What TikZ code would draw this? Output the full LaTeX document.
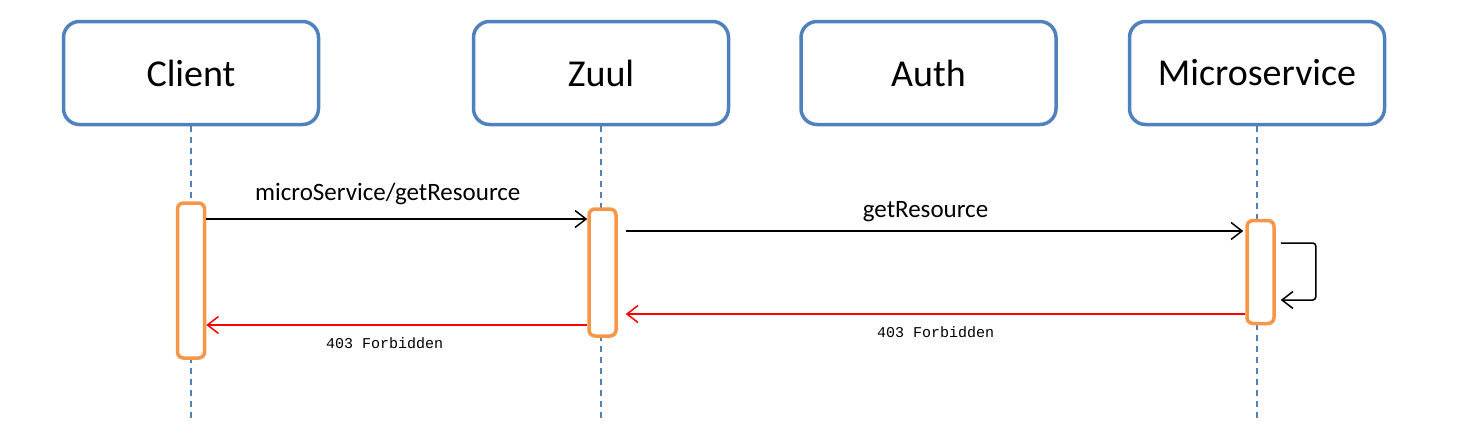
\documentclass[tikz,border=0pt]{standalone}
\usepackage{fontspec}
\setmainfont{Carlito}
\newfontfamily\monofont{Liberation Mono}
\usetikzlibrary{arrows.meta}
\definecolor{boxblue}{HTML}{4F81BD}
\definecolor{actorange}{HTML}{F79646}
\tikzset{
  actor/.style={draw=boxblue, line width=3.5pt, rounded corners=16pt, fill=white,
    minimum width=255pt, minimum height=103pt, inner sep=0pt, font=\fontsize{38}{42}\selectfont},
  actbox/.style={draw=actorange, line width=3.5pt, rounded corners=6pt, fill=white,
    minimum width=27pt, inner sep=0pt},
  lifeline/.style={draw=boxblue, line width=1.3pt, dash pattern=on 6pt off 5pt},
  msg/.style={draw=black, line width=1.5pt, -{Straight Barb[length=11pt,width=17pt,line width=1.5pt]}},
  ret/.style={draw=red, line width=1.5pt, -{Straight Barb[length=11pt,width=17pt,line width=1.5pt]}},
  msglabel/.style={font=\fontsize{25}{29}\selectfont, inner sep=0pt},
  retlabel/.style={font=\monofont\fontsize{15}{18}\selectfont, inner sep=0pt}
}
\begin{document}
\begin{tikzpicture}[x=1pt,y=-1pt]
\useasboundingbox (0,0) rectangle (1470,440);
% actors
\node[actor] (client) at (191,73) {Client};
\node[actor] (zuul) at (601,73) {Zuul};
\node[actor] (auth) at (928.5,73) {Auth};
\node[actor] (micro) at (1257,73) {Microservice};
% lifeline ends
\coordinate (cend) at (191,420);
\coordinate (zend) at (601,420);
\coordinate (mend) at (1257,420);
\draw[lifeline] (client.south) -- (cend);
\draw[lifeline] (zuul.south) -- (zend);
\draw[lifeline] (micro.south) -- (mend);
% activations
\node[actbox, minimum height=155pt] (ac) at (191,280.5) {};
\node[actbox, minimum height=127pt] (az) at (602.5,272.5) {};
\node[actbox, minimum height=103pt] (am) at (1260.5,272) {};
% messages
\draw[msg] ([yshift=61.5pt]ac.east) -- node[msglabel, above=13pt, xshift=-9pt] (l1) {microService/getResource} ([yshift=53.5pt]az.west);
\draw[msg] ([yshift=41.5pt,xshift=8pt]az.east) -- node[msglabel, above=8pt, xshift=-9pt] (l2) {getResource} ([yshift=41pt,xshift=-2pt]am.west);
% self loop
\coordinate (sl1) at ([xshift=5pt,yshift=29pt]am.east);
\coordinate (sl2) at ([xshift=40pt,yshift=29pt]am.east);
\coordinate (sl3) at ([xshift=40pt,yshift=-28pt]am.east);
\coordinate (sl4) at ([xshift=5pt,yshift=-28pt]am.east);
\draw[msg, rounded corners=3pt] (sl1) -- (sl2) -- (sl3) -- (sl4);
% returns
\draw[ret] ([yshift=-42pt]am.west) -- node[retlabel, below=12pt] (l3) {403 Forbidden} ([yshift=-41.5pt,xshift=8pt]az.east);
\draw[ret] ([yshift=-52.5pt]az.west) -- node[retlabel, below=12pt, xshift=-12pt] (l4) {403 Forbidden} ([yshift=-44.5pt]ac.east);
\end{tikzpicture}
\end{document}
